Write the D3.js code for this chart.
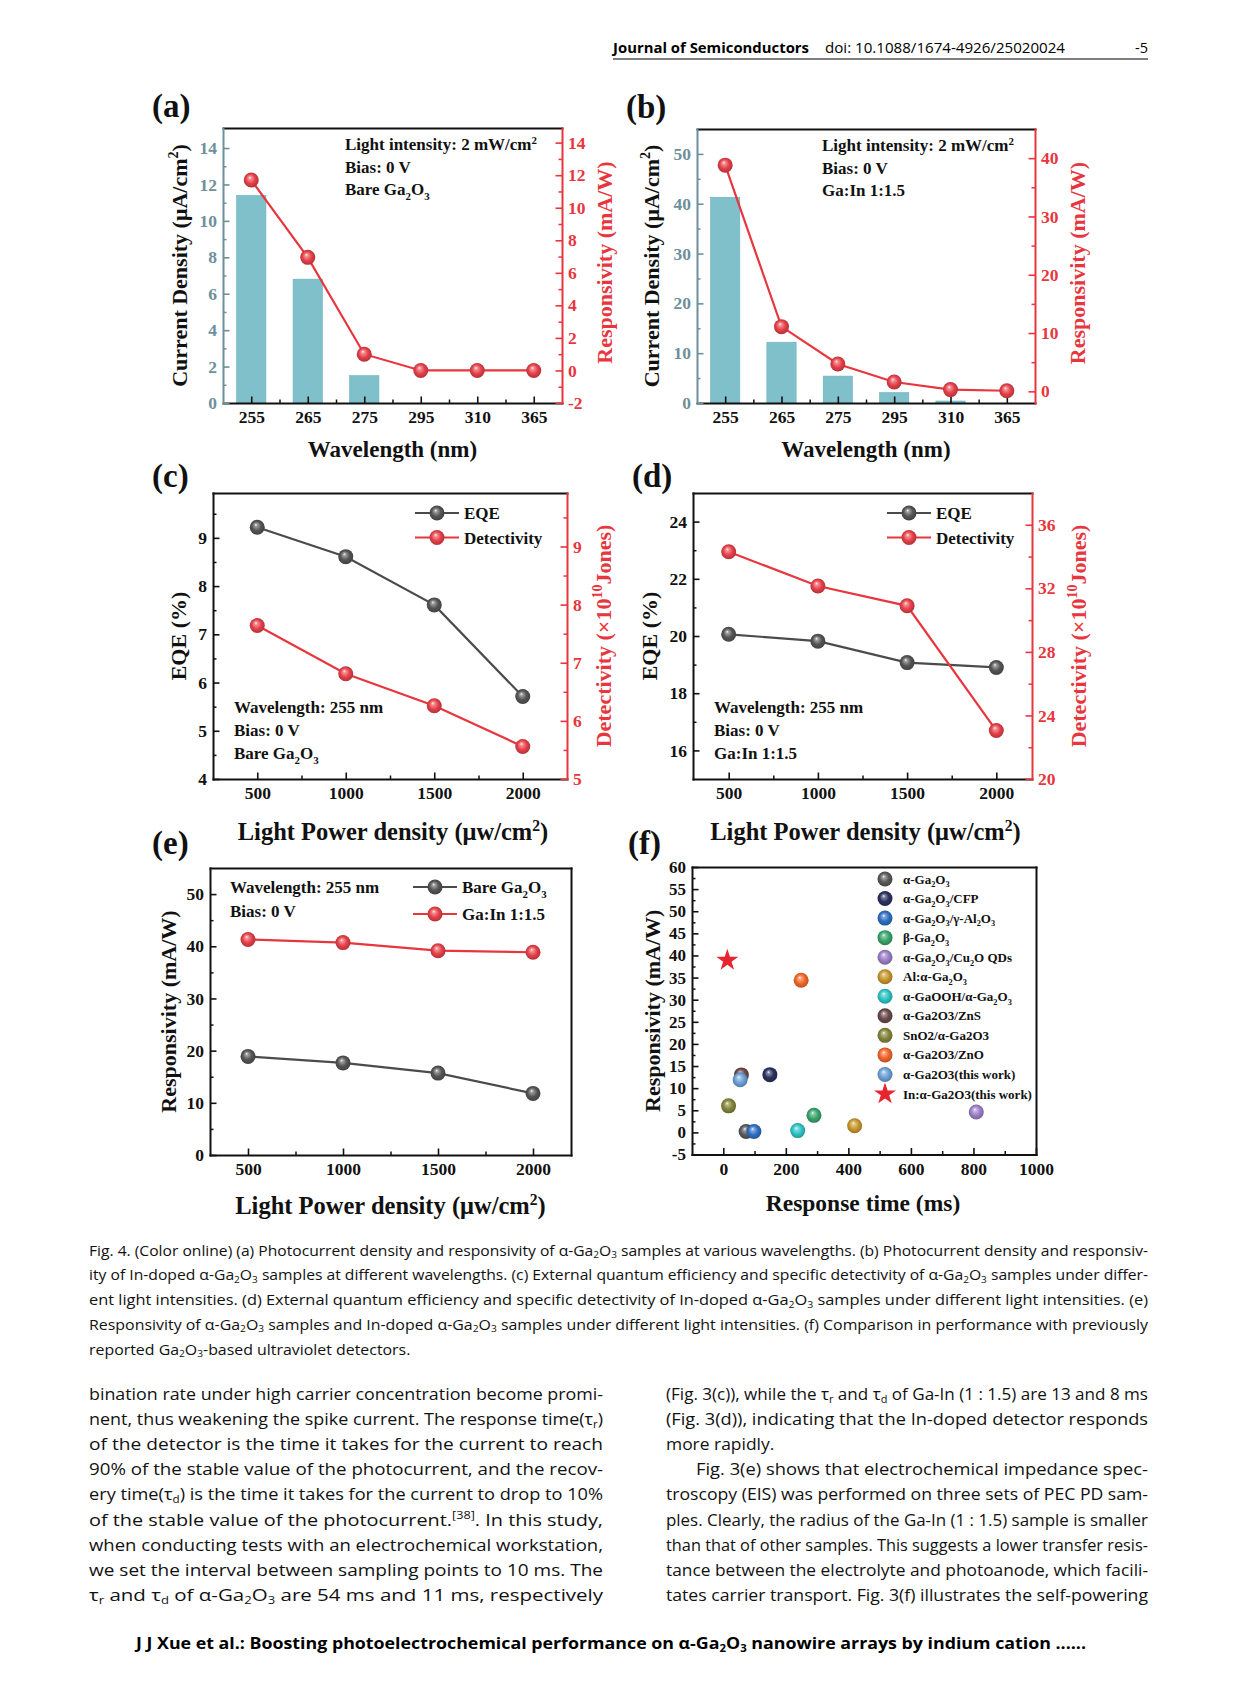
<!DOCTYPE html>
<html lang="en">
<head>
<meta charset="UTF-8">
<title>Fig. 4 - In-doped Ga2O3 photodetectors</title>
<style>
  body, html { margin: 0; padding: 0; background: #fff; }
  svg { display: block; }
</style>
</head>
<body>
<div id="chart"></div>
<script src="https://d3js.org/d3.v7.min.js"></script>
<script>
// ---- data ----
const wavelengths = ["255", "265", "275", "295", "310", "365"];
const currentBare = [11.4, 6.8, 1.5, 0, 0, 0];
const respBare = [11.7, 6.95, 1.0, 0, 0, 0];
const currentDoped = [41.3, 12.2, 5.4, 2.1, 0.4, 0];
const respDoped = [38.8, 11.1, 4.7, 1.6, 0.3, 0.1];

const powers = [500, 1000, 1500, 2000];
const eqeBare = [9.22, 8.61, 7.61, 5.71];
const detBare = [7.64, 6.81, 6.26, 5.56];
const eqeDoped = [20.06, 19.82, 19.07, 18.9];
const detDoped = [34.3, 32.15, 30.9, 23.05];
const respPowerBare = [18.9, 17.65, 15.7, 11.8];
const respPowerDoped = [41.3, 40.7, 39.15, 38.85];

const devices = ["α-Ga_2O_3", "α-Ga_2O_3/CFP", "α-Ga_2O_3/γ-Al_2O_3", "β-Ga_2O_3", "α-Ga_2O_3/Cu_2O QDs",
  "Al:α-Ga_2O_3", "α-GaOOH/α-Ga_2O_3", "α-Ga2O3/ZnS", "SnO2/α-Ga2O3", "α-Ga2O3/ZnO",
  "α-Ga2O3(this work)", "In:α-Ga2O3(this work)"];
const responseTime = [73, 149, 98, 290, 809, 420, 238, 58, 17, 249, 54, 13];
const responsivity = [0.2, 13.05, 0.2, 3.85, 4.6, 1.5, 0.4, 13.0, 6.0, 34.4, 11.9, 38.9];
const deviceColors = ["#5a5a5a", "#2b3160", "#2f6fc4", "#3aa56c", "#9c80c8", "#c9982e",
  "#2fc4c4", "#6b4a4c", "#85863a", "#f4672a", "#6da0d8", "#e8252e"];

const captionLines = [
  "Fig. 4. (Color online) (a) Photocurrent density and responsivity of α-Ga_2O_3 samples at various wavelengths. (b) Photocurrent density and responsiv-",
  "ity of In-doped α-Ga_2O_3 samples at different wavelengths. (c) External quantum efficiency and specific detectivity of α-Ga_2O_3 samples under differ-",
  "ent light intensities. (d) External quantum efficiency and specific detectivity of In-doped α-Ga_2O_3 samples under different light intensities. (e)",
  "Responsivity of α-Ga_2O_3 samples and In-doped α-Ga_2O_3 samples under different light intensities. (f) Comparison in performance with previously",
  "reported Ga_2O_3-based ultraviolet detectors."
];
const leftColumn = [
  "bination rate under high carrier concentration become promi-",
  "nent, thus weakening the spike current. The response time(τ_r)",
  "of the detector is the time it takes for the current to reach",
  "90% of the stable value of the photocurrent, and the recov-",
  "ery time(τ_d) is the time it takes for the current to drop to 10%",
  "of the stable value of the photocurrent.^{[38]}. In this study,",
  "when conducting tests with an electrochemical workstation,",
  "we set the interval between sampling points to 10 ms. The",
  "τ_r and τ_d of α-Ga_2O_3 are 54 ms and 11 ms, respectively"
];
const rightColumn = [
  "(Fig. 3(c)), while the τ_r and τ_d of Ga-In (1 : 1.5) are 13 and 8 ms",
  "(Fig. 3(d)), indicating that the In-doped detector responds",
  "more rapidly.",
  "Fig. 3(e) shows that electrochemical impedance spec-",
  "troscopy (EIS) was performed on three sets of PEC PD sam-",
  "ples. Clearly, the radius of the Ga-In (1 : 1.5) sample is smaller",
  "than that of other samples. This suggests a lower transfer resis-",
  "tance between the electrolyte and photoanode, which facili-",
  "tates carrier transport. Fig. 3(f) illustrates the self-powering"
];

// ---- page ----
const W = 1241, H = 1684;
const svg = d3.select("#chart").append("svg")
  .attr("width", W).attr("height", H).attr("viewBox", `0 0 ${W} ${H}`);
svg.append("rect").attr("width", W).attr("height", H).attr("fill", "#fff");
const defs = svg.append("defs");

const SERIF = "'Liberation Serif', 'Times New Roman', serif";
const SANS = "'Open Sans', 'Noto Sans', sans-serif";
const RED = "#e8363e", GREY = "#4b4b4b", SLATE = "#6d909c", BAR = "#80c0cb";

function sphere(id, base) {
  const g = defs.append("radialGradient").attr("id", id)
    .attr("cx", "50%").attr("cy", "50%").attr("r", "55%").attr("fx", "40%").attr("fy", "32%");
  g.append("stop").attr("offset", "0%").attr("stop-color", "#fff");
  g.append("stop").attr("offset", "16%").attr("stop-color", d3.interpolateRgb("#fff", base)(0.55));
  g.append("stop").attr("offset", "55%").attr("stop-color", base);
  g.append("stop").attr("offset", "100%").attr("stop-color", d3.color(base).darker(0.9));
}
sphere("ballGrey", "#555555");
sphere("ballRed", "#e8414a");
deviceColors.forEach((c, i) => sphere("dev" + i, c));

// text with _x subscripts and ^x superscripts
function rich(sel, str, fs, subShift = 0.3) {
  const re = /([_^])(\{[^}]*\}|.)/g;
  let last = 0, m, shift = 0;
  const add = (t, dy, small) => {
    const ts = sel.append("tspan").text(t);
    if (dy) ts.attr("dy", dy);
    if (small) ts.attr("font-size", fs * 0.64);
  };
  while ((m = re.exec(str))) {
    if (m.index > last) { add(str.slice(last, m.index), -shift); shift = 0; }
    let t = m[2];
    if (t[0] === "{") t = t.slice(1, -1);
    const s = m[1] === "_" ? fs * subShift : -fs * 0.38;
    add(t, s - shift, true);
    shift = s;
    last = re.lastIndex;
  }
  if (last < str.length) add(str.slice(last), -shift);
  return sel;
}

function txt(g, str, x, y, o = {}) {
  const fs = o.size || 17;
  const t = g.append("text").attr("x", x).attr("y", y)
    .attr("font-family", o.family || SERIF).attr("font-weight", o.weight || "bold")
    .attr("font-size", fs).attr("fill", o.color || "#111")
    .attr("text-anchor", o.anchor || "start");
  return rich(t, str, fs, o.sub);
}

function vtitle(g, str, cx, cy, color, fs = 22) {
  const t = g.append("text")
    .attr("transform", `translate(${cx + fs * 0.35},${cy}) rotate(-90)`)
    .attr("text-anchor", "middle").attr("font-family", SERIF).attr("font-weight", "bold")
    .attr("font-size", fs).attr("fill", color);
  return rich(t, str, fs);
}

// inward ticks, like the Origin plots
function axis(g, kind, scale, pos, major, minor, color, fs = 17.5) {
  const make = { left: d3.axisLeft, right: d3.axisRight, bottom: d3.axisBottom, top: d3.axisTop }[kind];
  const horiz = kind === "bottom" || kind === "top";
  const tr = horiz ? `translate(0,${pos})` : `translate(${pos},0)`;
  if (minor && minor.length) {
    g.append("g").attr("transform", tr)
      .call(make(scale).tickValues(minor).tickSize(-3.5).tickFormat(""))
      .call(a => a.select(".domain").remove())
      .selectAll("line").attr("stroke", color).attr("stroke-width", 1.5);
  }
  const a = g.append("g").attr("transform", tr)
    .call(make(scale).tickValues(major || []).tickSizeInner(-6.5).tickSizeOuter(0)
      .tickPadding(horiz ? 8 : 6).tickFormat(d => d));
  a.select(".domain").attr("stroke", color).attr("stroke-width", 2).attr("stroke-linecap", "square");
  a.selectAll(".tick line").attr("stroke", color).attr("stroke-width", 1.6);
  a.selectAll(".tick text").attr("fill", color).attr("font-family", SERIF)
    .attr("font-weight", "bold").attr("font-size", fs);
  return a;
}

function series(g, pts, color, grad) {
  g.append("path").attr("d", d3.line()(pts)).attr("fill", "none")
    .attr("stroke", color).attr("stroke-width", 2.2);
  g.selectAll(null).data(pts).join("circle")
    .attr("cx", d => d[0]).attr("cy", d => d[1]).attr("r", 7.5)
    .attr("fill", `url(#${grad})`);
}

function legendRow(g, x, y, str, color, grad) {
  g.append("line").attr("x1", x).attr("x2", x + 44).attr("y1", y).attr("y2", y)
    .attr("stroke", color).attr("stroke-width", 2.2);
  g.append("circle").attr("cx", x + 22).attr("cy", y).attr("r", 7.5).attr("fill", `url(#${grad})`);
  txt(g, str, x + 49, y + 6, { size: 17 });
}

const range = (a, b, s) => d3.range(a, b + s / 2, s);

// ---- (a) and (b): bars + responsivity ----
function barPanel(tag, box, cur, resp, yLDom, yRDom, lt, rt, notes) {
  const g = svg.append("g");
  const x = d3.scalePoint(wavelengths, [box.x0, box.x1]).padding(0.5);
  const xi = d3.scaleLinear([-0.5, wavelengths.length - 0.5], [box.x0, box.x1]);
  const yL = d3.scaleLinear(yLDom, [box.y1, box.y0]);
  const yR = d3.scaleLinear(yRDom, [box.y1, box.y0]);
  const bw = x.step() * 0.52;

  g.selectAll(null).data(wavelengths).join("rect")
    .attr("x", d => x(d) - bw / 2).attr("width", bw)
    .attr("y", (d, i) => yL(cur[i])).attr("height", (d, i) => yL(0) - yL(cur[i]))
    .attr("fill", BAR).attr("stroke", "#6fb1bc").attr("stroke-width", 0.6);

  axis(g, "top", x, box.y0, [], [], "#111");
  axis(g, "bottom", xi, box.y1, d3.range(wavelengths.length), d3.range(wavelengths.length - 1).map(i => i + 0.5), "#111")
    .selectAll(".tick text").attr("fill", "#111").text(d => wavelengths[d]);
  axis(g, "left", yL, box.x0, lt[0], lt[1], SLATE);
  axis(g, "right", yR, box.x1, rt[0], rt[1], RED);

  series(g, wavelengths.map((d, i) => [x(d), yR(resp[i])]), RED, "ballRed");

  notes.forEach((s, i) => txt(g, s, box.nx, box.y0 + 22 + i * 22.5, { size: 17 }));
  txt(g, "(" + tag + ")", box.x0 - 71, box.y0 - 11, { size: 33 });
  vtitle(g, "Current Density (μA/cm^2)", box.x0 - box.lt, (box.y0 + box.y1) / 2, "#111");
  vtitle(g, "Responsivity (mA/W)", box.x1 + 42, (box.y0 + box.y1) / 2 - 3, RED);
  txt(g, "Wavelength (nm)", (box.x0 + box.x1) / 2, box.y1 + 54, { size: 23, anchor: "middle" });
}

barPanel("a", { x0: 223, x1: 562, y0: 128, y1: 403, nx: 345, lt: 44 }, currentBare, respBare,
  [0, 15.1], [-2, 14.9],
  [range(0, 14, 2), range(1, 13, 2)], [range(-2, 14, 2), range(-1, 13, 2)],
  ["Light intensity: 2 mW/cm^2", "Bias: 0 V", "Bare Ga_2O_3"]);
barPanel("b", { x0: 697, x1: 1035, y0: 129, y1: 403, nx: 822, lt: 46 }, currentDoped, respDoped,
  [0, 55], [-2, 45],
  [range(0, 50, 10), range(5, 45, 10)], [range(0, 40, 10), range(5, 35, 10)],
  ["Light intensity: 2 mW/cm^2", "Bias: 0 V", "Ga:In 1:1.5"]);

// ---- (c) and (d): EQE + detectivity ----
function eqePanel(tag, box, xDom, eqe, det, yLDom, yRDom, lt, rt, notes) {
  const g = svg.append("g");
  const x = d3.scaleLinear(xDom, [box.x0, box.x1]);
  const yL = d3.scaleLinear(yLDom, [box.y1, box.y0]);
  const yR = d3.scaleLinear(yRDom, [box.y1, box.y0]);

  axis(g, "top", x, box.y0, [], [], "#111");
  axis(g, "bottom", x, box.y1, powers, [750, 1250, 1750], "#111");
  axis(g, "left", yL, box.x0, lt[0], lt[1], "#111");
  axis(g, "right", yR, box.x1, rt[0], rt[1], RED);

  series(g, powers.map((p, i) => [x(p), yL(eqe[i])]), GREY, "ballGrey");
  series(g, powers.map((p, i) => [x(p), yR(det[i])]), RED, "ballRed");

  legendRow(g, box.lx, box.y0 + 20, "EQE", GREY, "ballGrey");
  legendRow(g, box.lx, box.y0 + 44.5, "Detectivity", RED, "ballRed");
  notes.forEach((s, i) => txt(g, s, box.x0 + 21, box.y1 - 66 + i * 23, { size: 17 }));

  txt(g, "(" + tag + ")", box.x0 - 61, box.y0 - 6, { size: 33 });
  vtitle(g, "EQE (%)", box.x0 - box.lt, (box.y0 + box.y1) / 2, "#111");
  vtitle(g, "Detectivity (×10^{10}Jones)", box.x1 + box.rt, (box.y0 + box.y1) / 2, RED);
  txt(g, "Light Power density (μw/cm^2)", (box.x0 + box.x1) / 2 + 3, box.y1 + 61, { size: 24.5, anchor: "middle" });
}

eqePanel("c", { x0: 213, x1: 567, y0: 493, y1: 779, lx: 415, lt: 35, rt: 36 }, [250, 2250], eqeBare, detBare,
  [4, 9.93], [5, 9.92], [range(4, 9, 1), range(4.5, 9.5, 1)], [range(5, 9, 1), range(5.5, 9.5, 1)],
  ["Wavelength: 255 nm", "Bias: 0 V", "Bare Ga_2O_3"]);
eqePanel("d", { x0: 693, x1: 1032, y0: 493, y1: 779, lx: 887, lt: 44, rt: 46 }, [300, 2200], eqeDoped, detDoped,
  [15, 25], [20, 38], [range(16, 24, 2), range(17, 23, 2)], [range(20, 36, 4), range(22, 34, 4)],
  ["Wavelength: 255 nm", "Bias: 0 V", "Ga:In  1:1.5"]);

// ---- (e): responsivity vs power ----
{
  const box = { x0: 210, x1: 571, y0: 868, y1: 1155 };
  const g = svg.append("g");
  const x = d3.scaleLinear([300, 2200], [box.x0, box.x1]);
  const y = d3.scaleLinear([0, 55], [box.y1, box.y0]);
  axis(g, "top", x, box.y0, [], [], "#111");
  axis(g, "right", y, box.x1, [], [], "#111");
  axis(g, "bottom", x, box.y1, powers, [750, 1250, 1750], "#111");
  axis(g, "left", y, box.x0, range(0, 50, 10), range(5, 45, 10), "#111");
  series(g, powers.map((p, i) => [x(p), y(respPowerBare[i])]), GREY, "ballGrey");
  series(g, powers.map((p, i) => [x(p), y(respPowerDoped[i])]), RED, "ballRed");
  legendRow(g, 413, 887, "Bare Ga_2O_3", GREY, "ballGrey");
  legendRow(g, 413, 914, "Ga:In 1:1.5", RED, "ballRed");
  txt(g, "Wavelength: 255 nm", 230, 893, { size: 17 });
  txt(g, "Bias: 0 V", 230, 917, { size: 17 });
  txt(g, "(e)", 152, 854, { size: 33 });
  vtitle(g, "Responsivity (mA/W)", 168, (box.y0 + box.y1) / 2, "#111");
  txt(g, "Light Power density (μw/cm^2)", (box.x0 + box.x1) / 2, 1214, { size: 24.5, anchor: "middle" });
}

// ---- (f): comparison with reported detectors ----
{
  const box = { x0: 692, x1: 1036, y0: 867, y1: 1154.5 };
  const g = svg.append("g");
  const x = d3.scaleLinear([-100, 1000], [box.x0, box.x1]);
  const y = d3.scaleLinear([-5, 60], [box.y1, box.y0]);
  axis(g, "top", x, box.y0, [], [], "#111");
  axis(g, "right", y, box.x1, [], [], "#111");
  axis(g, "bottom", x, box.y1, range(0, 1000, 200), range(100, 900, 200), "#111");
  axis(g, "left", y, box.x0, range(-5, 60, 5), range(-2.5, 57.5, 5), "#111", 17);

  devices.forEach((d, i) => {
    if (i === devices.length - 1) {
      g.append("path").attr("d", d3.symbol(d3.symbolStar, 150)())
        .attr("transform", `translate(${x(responseTime[i])},${y(responsivity[i])})`)
        .attr("fill", deviceColors[i]);
    } else {
      g.append("circle").attr("cx", x(responseTime[i])).attr("cy", y(responsivity[i]))
        .attr("r", 7.5).attr("fill", `url(#dev${i})`);
    }
  });

  // legend
  const ly = d3.scalePoint(d3.range(devices.length), [879, 1094]);
  devices.forEach((d, i) => {
    if (i === devices.length - 1) {
      g.append("path").attr("d", d3.symbol(d3.symbolStar, 150)())
        .attr("transform", `translate(885,${ly(i)})`).attr("fill", deviceColors[i]);
    } else {
      g.append("circle").attr("cx", 885).attr("cy", ly(i)).attr("r", 7.5).attr("fill", `url(#dev${i})`);
    }
    txt(g, d, 903, ly(i) + 4.5, { size: 13, weight: "bold" });
  });

  txt(g, "(f)", 628, 854, { size: 33 });
  vtitle(g, "Responsivity (mA/W)", 652, (box.y0 + box.y1) / 2, "#111");
  txt(g, "Response time (ms)", 863, 1211, { size: 23.5, anchor: "middle" });
}

// ---- page furniture: header, caption, body text, footer ----
const page = svg.append("g");
txt(page, "Journal of Semiconductors", 613, 53, { family: SANS, size: 14.5, color: "#000" })
  .attr("textLength", 196).attr("lengthAdjust", "spacingAndGlyphs");
txt(page, "doi: 10.1088/1674-4926/25020024", 825, 53, { family: SANS, size: 14.5, weight: "normal", color: "#000" })
  .attr("textLength", 240).attr("lengthAdjust", "spacingAndGlyphs");
txt(page, "-5", 1148, 53, { family: SANS, size: 14.5, weight: "normal", color: "#000", anchor: "end" });
page.append("line").attr("x1", 613).attr("x2", 1148).attr("y1", 59).attr("y2", 59)
  .attr("stroke", "#000").attr("stroke-width", 1.2);

function block(lines, x, y0, lh, width, fs, ragged, indent = {}) {
  const nodes = lines.map((s, i) =>
    txt(page, s, x + (indent[i] || 0), y0 + i * lh,
      { family: SANS, size: fs, weight: "normal", color: "#111", sub: 0.18 }));
  const natural = nodes.map(n => n.node().getComputedTextLength());
  const full = nodes.map((n, i) => width - (indent[i] || 0));
  const factors = natural.map((w, i) => full[i] / w).filter((f, i) => !ragged.includes(i));
  const avg = d3.mean(factors);
  nodes.forEach((n, i) => {
    const len = ragged.includes(i) ? natural[i] * avg : full[i];
    n.attr("textLength", len).attr("lengthAdjust", "spacingAndGlyphs");
  });
}
block(captionLines, 89, 1255.5, 24.75, 1059, 15.2, [4]);
block(leftColumn, 89, 1400, 25.1, 514, 17.2, []);
block(rightColumn, 666, 1400, 25.1, 482, 17.2, [2], { 3: 30 });

txt(page, "J J Xue et al.: Boosting photoelectrochemical performance on α-Ga_2O_3 nanowire arrays by indium cation ......",
  611, 1649, { family: SANS, size: 16, anchor: "middle", color: "#000", sub: 0.18 })
  .attr("textLength", 950).attr("lengthAdjust", "spacingAndGlyphs");
</script>
</body>
</html>
